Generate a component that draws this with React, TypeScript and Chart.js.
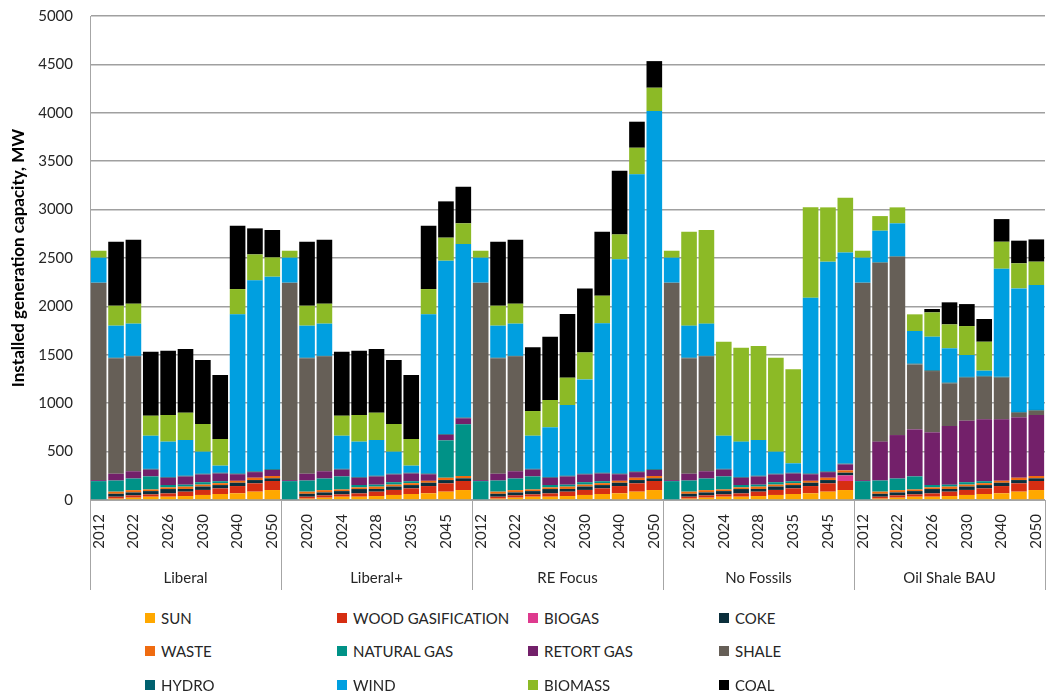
import React, { useEffect, useRef } from "react";
import { Chart, registerables } from "chart.js";

Chart.register(...registerables);

const years = ["2012", "2020", "2022", "2024", "2026", "2028", "2030", "2035", "2040", "2045", "2050"];
const scenarios = ["Liberal", "Liberal+", "RE Focus", "No Fossils", "Oil Shale BAU"];

// values per series, 11 years for each of the 5 scenarios (Liberal, Liberal+, RE Focus, No Fossils, Oil Shale BAU)
const sun = [
  0, 14, 24, 34, 34, 41, 52, 62, 69, 86, 103,
  0, 14, 24, 34, 34, 41, 52, 62, 69, 86, 103,
  0, 14, 24, 34, 34, 41, 52, 62, 69, 86, 103,
  0, 14, 24, 34, 34, 41, 52, 62, 69, 86, 103,
  0, 14, 24, 34, 34, 41, 52, 62, 69, 86, 103,
];
const woodGasification = [
  0, 20, 24, 24, 34, 45, 52, 58, 75, 86, 93,
  0, 20, 24, 24, 34, 45, 52, 58, 75, 86, 93,
  0, 20, 24, 24, 34, 45, 52, 58, 75, 86, 93,
  0, 20, 24, 24, 34, 45, 52, 58, 75, 86, 93,
  0, 20, 24, 24, 34, 45, 52, 58, 75, 86, 93,
];
const biogas = [
  0, 0, 0, 0, 0, 0, 0, 0, 0, 0, 0,
  0, 0, 0, 0, 0, 0, 0, 0, 0, 0, 0,
  0, 0, 0, 0, 0, 0, 0, 0, 0, 0, 0,
  0, 0, 0, 0, 0, 0, 0, 0, 0, 0, 58,
  0, 0, 0, 0, 0, 0, 0, 0, 0, 0, 0,
];
const coke = [
  0, 30, 30, 34, 45, 28, 35, 34, 34, 34, 28,
  0, 30, 30, 34, 45, 28, 35, 34, 34, 34, 28,
  0, 30, 30, 34, 45, 28, 35, 34, 34, 34, 28,
  0, 30, 30, 34, 45, 28, 35, 34, 34, 34, 28,
  0, 30, 30, 34, 45, 28, 35, 34, 34, 34, 28,
];
const waste = [
  0, 22, 24, 17, 17, 24, 20, 20, 20, 24, 24,
  0, 22, 24, 17, 17, 24, 20, 20, 20, 24, 24,
  0, 22, 24, 17, 17, 24, 20, 20, 20, 24, 24,
  0, 22, 24, 17, 17, 24, 20, 20, 20, 24, 24,
  0, 22, 24, 17, 17, 24, 20, 20, 20, 24, 24,
];
const naturalGas = [
  195, 115, 120, 135, 25, 20, 25, 20, 0, 0, 0,
  195, 115, 120, 135, 25, 20, 25, 20, 0, 386, 534,
  195, 115, 120, 135, 25, 20, 25, 20, 0, 0, 0,
  195, 115, 120, 135, 25, 20, 25, 20, 0, 0, 0,
  195, 115, 120, 135, 25, 20, 25, 20, 0, 0, 0,
];
const retortGas = [
  10, 70, 75, 70, 75, 85, 80, 80, 68, 58, 62,
  10, 70, 75, 70, 75, 85, 80, 80, 68, 58, 62,
  10, 70, 75, 70, 75, 85, 80, 80, 68, 58, 62,
  10, 70, 75, 70, 75, 85, 80, 80, 68, 58, 62,
  10, 402, 449, 486, 544, 606, 635, 639, 635, 624, 630,
];
const shale = [
  2040, 1194, 1187, 0, 0, 0, 0, 0, 0, 0, 0,
  2040, 1194, 1187, 0, 0, 0, 0, 0, 0, 0, 0,
  2040, 1194, 1187, 0, 0, 0, 0, 0, 0, 0, 0,
  2040, 1194, 1187, 0, 0, 0, 0, 0, 0, 0, 0,
  2040, 1848, 1842, 671, 633, 441, 445, 441, 431, 48, 45,
];
const hydro = [
  0, 5, 5, 8, 8, 8, 8, 8, 8, 8, 8,
  0, 5, 5, 8, 8, 8, 8, 8, 8, 8, 8,
  0, 5, 5, 8, 8, 8, 8, 8, 8, 8, 8,
  0, 5, 5, 8, 8, 8, 8, 8, 8, 8, 8,
  0, 5, 5, 8, 8, 8, 8, 8, 8, 8, 8,
];
const wind = [
  258, 331, 333, 342, 365, 369, 227, 73, 1644, 1973, 1989,
  258, 331, 333, 342, 365, 369, 227, 73, 1644, 1790, 1792,
  258, 331, 333, 342, 513, 730, 974, 1543, 2212, 3068, 3700,
  258, 331, 333, 342, 365, 369, 227, 97, 1816, 2166, 2182,
  258, 326, 340, 337, 347, 354, 226, 54, 1117, 1276, 1290,
];
const biomass = [
  72, 206, 206, 207, 275, 282, 286, 275, 261, 268, 199,
  72, 206, 206, 207, 275, 282, 286, 275, 261, 238, 214,
  72, 206, 206, 255, 282, 283, 279, 286, 258, 275, 241,
  72, 971, 967, 971, 970, 971, 971, 971, 933, 561, 565,
  72, 151, 165, 172, 251, 247, 299, 299, 279, 259, 241,
];
const coal = [
  0, 661, 661, 661, 664, 658, 661, 661, 655, 269, 283,
  0, 661, 661, 661, 664, 658, 661, 661, 655, 375, 378,
  0, 661, 661, 658, 654, 657, 661, 661, 658, 269, 275,
  0, 0, 0, 0, 0, 0, 0, 0, 0, 0, 0,
  0, 0, 0, 0, 35, 228, 227, 235, 234, 234, 230,
];

const seriesNames = [
  "SUN", "WOOD GASIFICATION", "BIOGAS", "COKE",
  "WASTE", "NATURAL GAS", "RETORT GAS", "SHALE",
  "HYDRO", "WIND", "BIOMASS", "COAL",
];
const seriesValues = [
  sun, woodGasification, biogas, coke,
  waste, naturalGas, retortGas, shale,
  hydro, wind, biomass, coal,
];
const seriesColors = [
  "#FFA800", "#D62E12", "#DE3A8E", "#0B2F3C",
  "#EF6B10", "#009287", "#73206A", "#665F57",
  "#00616F", "#009FE0", "#8CBA26", "#000000",
];

const yTitle = "Installed generation capacity, MW";
const FONT = "Lato, 'Open Sans', sans-serif";

const groupPlugin = {
  id: "groupLabels",
  afterDraw(chart: any) {
    const { ctx, chartArea } = chart;
    const n = scenarios.length;
    const w = (chartArea.right - chartArea.left) / n;
    ctx.save();
    ctx.strokeStyle = "#a6a6a6";
    ctx.lineWidth = 1;
    for (let i = 0; i <= n; i++) {
      const x = Math.round(chartArea.left + i * w) + 0.5;
      ctx.beginPath();
      ctx.moveTo(x, chartArea.bottom);
      ctx.lineTo(x, chartArea.bottom + 90);
      ctx.stroke();
    }
    ctx.fillStyle = "#262626";
    ctx.font = `15px ${FONT}`;
    ctx.textAlign = "center";
    ctx.textBaseline = "middle";
    scenarios.forEach((s, i) => {
      ctx.fillText(s, chartArea.left + (i + 0.5) * w, chartArea.bottom + 78);
    });
    ctx.restore();
  },
};

export default function App() {
  const ref = useRef<HTMLCanvasElement>(null);
  useEffect(() => {
    const labels: string[] = [];
    scenarios.forEach(() => years.forEach((y) => labels.push(y)));
    const chart = new Chart(ref.current as HTMLCanvasElement, {
      type: "bar",
      data: {
        labels,
        datasets: seriesNames.map((name, i) => ({
          label: name,
          data: seriesValues[i],
          backgroundColor: seriesColors[i],
          borderWidth: 0,
          barPercentage: 0.9,
          categoryPercentage: 1,
        })),
      },
      options: {
        responsive: false,
        animation: false,
        events: [],
        layout: { padding: { top: 16, right: 3, left: 0, bottom: 0 } },
        plugins: { legend: { display: false }, tooltip: { enabled: false } },
        scales: {
          x: {
            stacked: true,
            offset: true,
            grid: { display: false },
            border: { display: true, color: "#a6a6a6", width: 1 },
            ticks: {
              autoSkip: false,
              maxRotation: 90,
              minRotation: 90,
              padding: 6,
              color: "#262626",
              font: { family: FONT, size: 15 },
              callback: (_v: any, idx: number) => (idx % 2 === 0 ? labels[idx] : ""),
            },
            afterFit: (s: any) => {
              s.height = 100;
              s.paddingLeft = 0;
              s.paddingRight = 0;
            },
          },
          y: {
            stacked: true,
            min: 0,
            max: 5000,
            ticks: {
              stepSize: 500,
              padding: 17,
              color: "#262626",
              font: { family: FONT, size: 15 },
              callback: (v: any) => String(v),
            },
            grid: { color: "#a0a0a0", lineWidth: 1.5, drawTicks: false },
            border: { display: true, color: "#a6a6a6", width: 1 },
            title: {
              display: true,
              text: yTitle,
              color: "#000",
              font: { family: FONT, size: 17, weight: "bold" },
              padding: { top: 8, bottom: 0 },
            },
            afterFit: (s: any) => {
              s.width = 90;
              s.paddingTop = 0;
              s.paddingBottom = 0;
            },
          },
        },
      },
      plugins: [groupPlugin],
    } as any);
    return () => chart.destroy();
  }, []);

  const colX = [145, 337, 528, 719];
  const rowY = [618, 651, 685];

  return (
    <div style={{ position: "fixed", left: 0, top: 0, width: 1048, height: 694, background: "#fff", fontFamily: FONT }}>
      <canvas ref={ref} width={1048} height={600} style={{ display: "block" }} />
      {seriesNames.map((name, i) => {
        const r = Math.floor(i / 4);
        const c = i % 4;
        return (
          <div
            key={name}
            style={{
              position: "absolute",
              left: colX[c],
              top: rowY[r] - 10,
              height: 20,
              display: "flex",
              alignItems: "center",
              whiteSpace: "nowrap",
              fontSize: 15,
              color: "#262626",
            }}
          >
            <span style={{ display: "inline-block", width: 10, height: 10, background: seriesColors[i], marginRight: 6 }} />
            <span>{name}</span>
          </div>
        );
      })}
    </div>
  );
}
